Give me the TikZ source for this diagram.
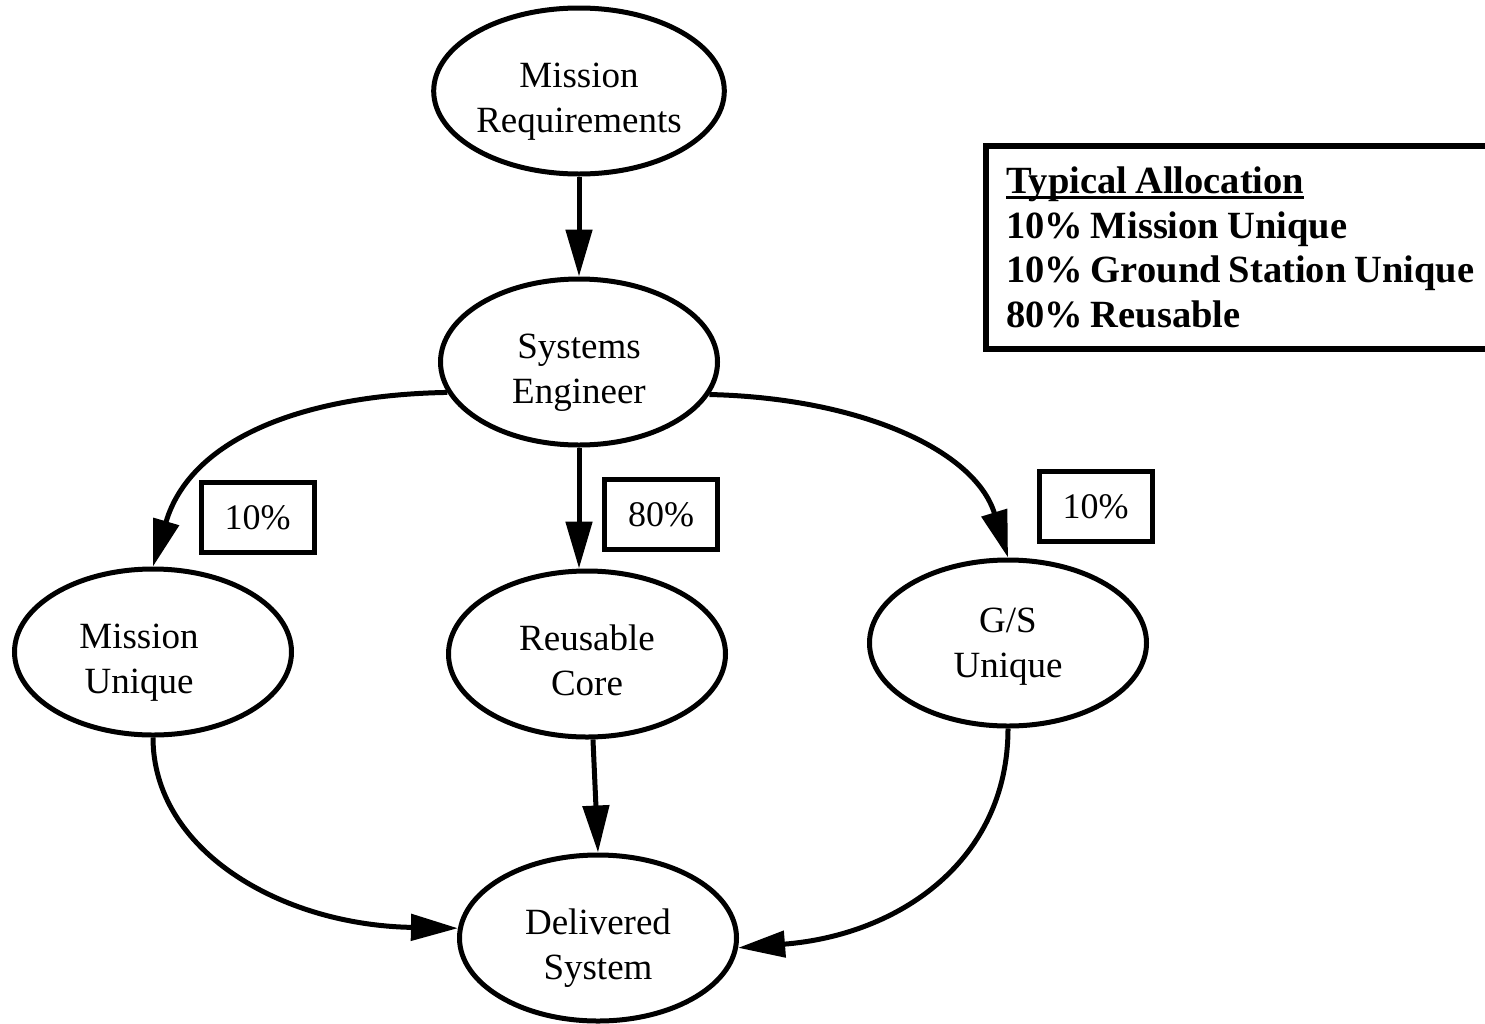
\documentclass[tikz,border=0pt]{standalone}
\usepackage{fontspec}
\setmainfont{Liberation Serif}
\usetikzlibrary{arrows.meta,shapes.geometric}
\newcommand\ulbar[1]{\setbox0\hbox{#1}\rlap{\rule[-5pt]{\wd0}{2.5pt}}\box0}
\newcommand\twoline[2]{\rule{0pt}{45pt}#1\\#2\rule[-8pt]{0pt}{8pt}}
\begin{document}
\begin{tikzpicture}[x=1pt,y=-1pt,
  ell/.style={draw, line width=5pt, ellipse, minimum width=277pt, minimum height=166pt,
    inner sep=0pt, align=center, font=\fontsize{37}{45}\selectfont},
  pct/.style={draw, line width=5pt, minimum width=113pt, minimum height=70pt,
    inner sep=0pt, font=\fontsize{36}{45}\selectfont},
  conn/.style={line width=5pt, -{Triangle[length=47pt,width=26pt]}}]
\useasboundingbox (0,0) rectangle (1485,1023);

\node[ell] (MR) at (579,91) {\twoline{Mission}{Requirements}};
\node[ell] (SE) at (579,362) {\twoline{Systems}{Engineer}};
\node[ell] (MU) at (153,652) {\twoline{Mission\hspace*{28pt}}{Unique\hspace*{28pt}}};
\node[ell] (RC) at (587,654) {\twoline{Reusable}{Core}};
\node[ell] (GS) at (1008,643) {\rule{0pt}{31pt}G/S\\Unique\rule[-8pt]{0pt}{8pt}};
\node[ell] (DS) at (598,938) {\twoline{Delivered}{System}};

\node[pct] (P1) at (257.5,517.5) {10\%};
\node[pct] (P2) at (661,514.5) {80\%};
\node[pct] (P3) at (1095.5,506.5) {10\%};

\node[draw, line width=6pt, anchor=north west, text width=520pt, minimum height=203pt,
  inner xsep=20pt, inner ysep=0pt, align=left,
  font={\bfseries\fontsize{38.5}{44.5}\selectfont}] (LEG) at (983,143)
  {\spaceskip=8pt\relax\ulbar{Typical\hspace{8pt}Allocation}\\10\% Mission Unique\\10\% Ground Station Unique\\80\% Reusable};

\draw[conn] (MR) -- (SE);
\draw[conn] (SE.193) .. controls (300,395) and (190,440) .. (MU.north);
\draw[conn] (SE.south) -- (SE.south |- RC.north);
\draw[conn] (SE.346) .. controls (860,398) and (975,450) .. (GS.north);
\draw[conn] (MU.south) .. controls (153,850) and (280,925) .. (DS.176);
\draw[conn] (RC.-86) -- (DS.north);
\draw[conn] (GS.south) .. controls (1008,860) and (900,935) .. (DS.-4);
\end{tikzpicture}
\end{document}
